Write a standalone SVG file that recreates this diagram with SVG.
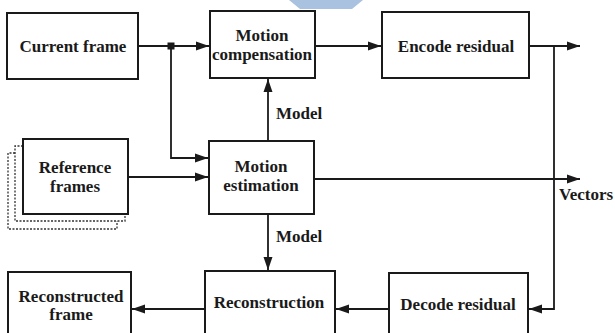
<svg xmlns="http://www.w3.org/2000/svg" width="615" height="333" viewBox="0 0 615 333">
<style>
.box{fill:#fff;stroke:#1a1a1a;stroke-width:2}
.shadow{fill:none;stroke:#333;stroke-width:1.3;stroke-dasharray:2,1.5}
.t{font-family:"Liberation Serif","Times New Roman",serif;font-weight:bold;font-size:17px;fill:#1a1a1a;text-anchor:middle}
.lbl{font-family:"Liberation Serif","Times New Roman",serif;font-weight:bold;font-size:17px;fill:#1a1a1a}
.c{fill:none;stroke:#1a1a1a;stroke-width:1.8}
</style>
<defs>
<marker id="ah" markerUnits="userSpaceOnUse" markerWidth="14" markerHeight="10" refX="13" refY="5" orient="auto">
<path d="M0,0.5 L13,5 L0,9.5 Z" fill="#1a1a1a"/>
</marker>
</defs>
<rect width="615" height="333" fill="#fff"/>
<polygon points="289,0 363,0 352,9 300,9" fill="#a9c2e0"/>

<g id="current-frame">
<rect class="box" x="7" y="13" width="131" height="66"/>
<text class="t" x="73" y="52">Current frame</text>
</g>
<g id="motion-compensation">
<rect class="box" x="210" y="11" width="105" height="67"/>
<text class="t" x="262" y="41">Motion</text>
<text class="t" x="262" y="60">compensation</text>
</g>
<g id="encode-residual">
<rect class="box" x="382" y="12" width="147" height="66"/>
<text class="t" x="456" y="52">Encode residual</text>
</g>
<g id="reference-frames">
<polyline class="shadow" points="23,146 15,146 15,221 125,221 125,214"/>
<polyline class="shadow" points="15,153 8,153 8,229 117,229 117,221"/>
<rect class="box" x="23" y="139" width="105" height="75"/>
<text class="t" x="75" y="173">Reference</text>
<text class="t" x="75" y="192">frames</text>
</g>
<g id="motion-estimation">
<rect class="box" x="209" y="141" width="105" height="73"/>
<text class="t" x="261" y="172">Motion</text>
<text class="t" x="261" y="191">estimation</text>
</g>
<g id="reconstructed-frame">
<rect class="box" x="8" y="272" width="123" height="70"/>
<text class="t" x="71" y="302">Reconstructed</text>
<text class="t" x="71" y="320">frame</text>
</g>
<g id="reconstruction">
<rect class="box" x="205" y="271" width="130" height="71"/>
<text class="t" x="269" y="308">Reconstruction</text>
</g>
<g id="decode-residual">
<rect class="box" x="389" y="273" width="139" height="69"/>
<text class="t" x="458" y="310">Decode residual</text>
</g>

<g id="connectors">
<line class="c" x1="138" y1="46" x2="209" y2="46" marker-end="url(#ah)"/>
<rect x="167.5" y="42.5" width="7" height="7" fill="#1a1a1a"/>
<polyline class="c" points="171,46 171,158 208,158" marker-end="url(#ah)"/>
<line class="c" x1="128" y1="177" x2="208" y2="177" marker-end="url(#ah)"/>
<line class="c" x1="268" y1="141" x2="268" y2="79" marker-end="url(#ah)"/>
<line class="c" x1="315" y1="46" x2="381" y2="46" marker-end="url(#ah)"/>
<line class="c" x1="529" y1="46" x2="580" y2="46" marker-end="url(#ah)"/>
<polyline class="c" points="554,46 554,309 529,309" marker-end="url(#ah)"/>
<line class="c" x1="314" y1="179" x2="580" y2="179" marker-end="url(#ah)"/>
<line class="c" x1="268" y1="214" x2="268" y2="270" marker-end="url(#ah)"/>
<line class="c" x1="389" y1="309" x2="336" y2="309" marker-end="url(#ah)"/>
<line class="c" x1="205" y1="309" x2="132" y2="309" marker-end="url(#ah)"/>
<text class="lbl" x="276" y="119">Model</text>
<text class="lbl" x="276" y="242">Model</text>
<text class="lbl" x="559" y="200">Vectors</text>
</g>
</svg>
